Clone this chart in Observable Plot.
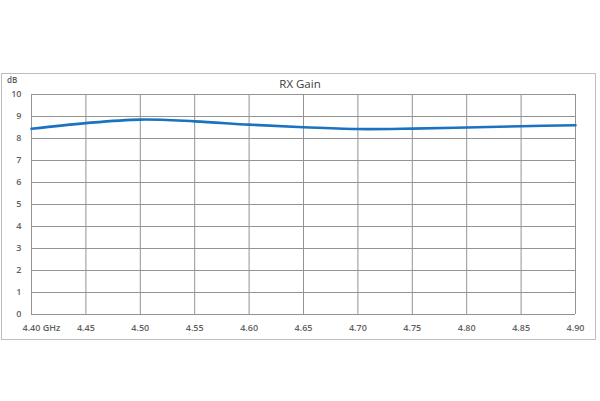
<!DOCTYPE html>
<html>
<head>
<meta charset="utf-8">
<script src="https://cdn.jsdelivr.net/npm/d3@7"></script>
<script src="https://cdn.jsdelivr.net/npm/@observablehq/plot@0.6"></script>
<style>
  html, body { margin: 0; padding: 0; background: #fff; }
  #wrap { position: relative; width: 600px; height: 401px; overflow: hidden; }
  #frame { position: absolute; left: 1px; top: 73px; width: 593px; height: 265px; border: 1px solid #bdbdbd; pointer-events: none; }
  #title { position: absolute; left: 0; width: 600px; top: 76px; text-align: center; font: 11.5px "Open Sans", sans-serif; color: #404040; }
  #unit { position: absolute; left: 7px; top: 74px; font: 600 8px "Open Sans", sans-serif; color: #595959; }
  #chart { position: absolute; left: 0; top: 0; }
</style>
</head>
<body>
<div id="wrap">
  <div id="chart"></div>
  <div id="frame"></div>
  <div id="title">RX Gain</div>
  <div id="unit">dB</div>
</div>
<script>
const freqGHz = [4.40, 4.45, 4.50, 4.55, 4.60, 4.65, 4.70, 4.75, 4.80, 4.85, 4.90];
const gainDb  = [8.44, 8.70, 8.86, 8.78, 8.63, 8.51, 8.43, 8.45, 8.50, 8.56, 8.60];
const xTicks  = [4.40, 4.45, 4.50, 4.55, 4.60, 4.65, 4.70, 4.75, 4.80, 4.85, 4.90];
const yTicks  = [0, 1, 2, 3, 4, 5, 6, 7, 8, 9, 10];

const data = freqGHz.map((f, i) => ({f, g: gainDb[i]}));
const gridColor = "#939393";
const tickFont = {fontSize: 9, fontWeight: 600, fill: "#5f5f5f"};

const chart = Plot.plot({
  width: 600,
  height: 401,
  marginLeft: 31,
  marginRight: 25,
  marginTop: 94,
  marginBottom: 87,
  style: {fontFamily: "'Open Sans', sans-serif", background: "transparent", overflow: "visible"},
  x: {domain: [4.40, 4.90]},
  y: {domain: [0, 10]},
  marks: [
    Plot.gridX(xTicks, {stroke: gridColor, strokeOpacity: 1, strokeWidth: 1}),
    Plot.gridY(yTicks, {stroke: gridColor, strokeOpacity: 1, strokeWidth: 1}),
    Plot.axisY(yTicks, {tickSize: 0, tickPadding: 10, tickFormat: d => String(d), ...tickFont, label: null}),
    Plot.axisX(xTicks.slice(1), {tickSize: 0, tickPadding: 10, tickFormat: d => d.toFixed(2), ...tickFont, label: null}),
    Plot.axisX(xTicks.slice(0, 1), {tickSize: 0, tickPadding: 10, tickFormat: d => d.toFixed(2) + " GHz", textAnchor: "start", dx: -9, ...tickFont, label: null}),
    Plot.line(data, {x: "f", y: "g", stroke: "#1a73c0", strokeWidth: 2.6, curve: "catmull-rom"})
  ]
});
document.getElementById("chart").appendChild(chart);
</script>
</body>
</html>
